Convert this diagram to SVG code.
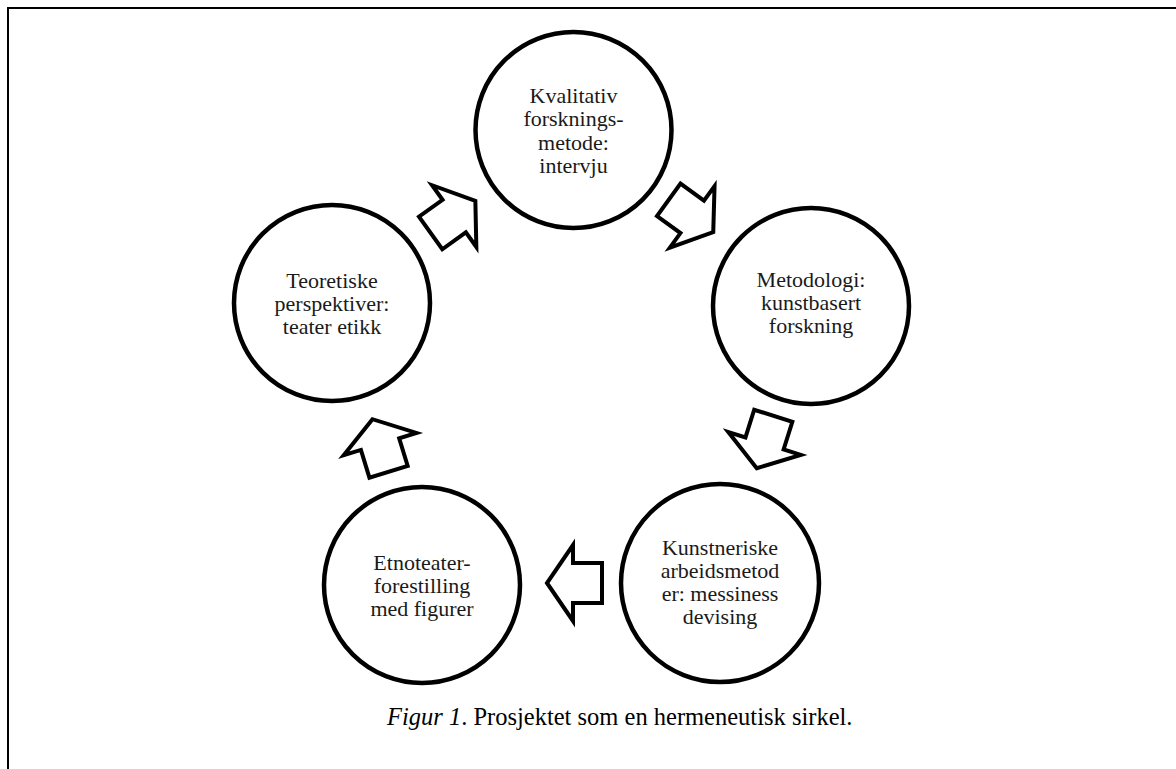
<svg xmlns="http://www.w3.org/2000/svg" width="1176" height="769" viewBox="0 0 1176 769">
<style>
.frame{fill:none;stroke:#000;stroke-width:2}
.node circle{fill:#fff;stroke:#000;stroke-width:4.5}
.node text{font-family:"Liberation Serif","Times New Roman",serif;font-size:22px;fill:#1a1a1a;text-anchor:middle}
.arrow{fill:#fff;stroke:#000;stroke-width:4;stroke-linejoin:miter;stroke-miterlimit:10}
.caption{font-family:"Liberation Serif","Times New Roman",serif;font-size:24.5px;fill:#000}
</style>
<defs>
<path id="blockArrow" d="M27.5,0 L1.5,-38 L1.5,-20 L-27.5,-20 L-27.5,20 L1.5,20 L1.5,38 Z"/>
</defs>
<rect width="1176" height="769" fill="#fff"/>
<path class="frame" d="M8,769 V8 H1176"/>

<g id="connectors">
<use href="#blockArrow" class="arrow" transform="translate(453,217) rotate(-35.6)"/>
<use href="#blockArrow" class="arrow" transform="translate(691,216) rotate(36)"/>
<use href="#blockArrow" class="arrow" transform="translate(765,442) rotate(107.5)"/>
<use href="#blockArrow" class="arrow" transform="translate(574.5,583) rotate(180)"/>
<use href="#blockArrow" class="arrow" transform="translate(380.5,445.5) rotate(-107)"/>
</g>

<g id="node-kvalitativ" class="node">
<circle cx="573.5" cy="130" r="98"/>
<text x="573.5" y="103">Kvalitativ</text>
<text x="573.5" y="126.3">forsknings-</text>
<text x="573.5" y="149.6">metode:</text>
<text x="573.5" y="172.9">intervju</text>
</g>

<g id="node-metodologi" class="node">
<circle cx="811" cy="306" r="98"/>
<text x="811" y="287">Metodologi:</text>
<text x="811" y="310">kunstbasert</text>
<text x="811" y="333">forskning</text>
</g>

<g id="node-kunstneriske" class="node">
<circle cx="720" cy="583" r="99"/>
<text x="720" y="555">Kunstneriske</text>
<text x="720" y="578">arbeidsmetod</text>
<text x="720" y="601">er: messiness</text>
<text x="720" y="624">devising</text>
</g>

<g id="node-etnoteater" class="node">
<circle cx="422" cy="585" r="98"/>
<text x="422" y="570">Etnoteater-</text>
<text x="422" y="593">forestilling</text>
<text x="422" y="616">med figurer</text>
</g>

<g id="node-teoretiske" class="node">
<circle cx="332" cy="303" r="98"/>
<text x="332" y="288">Teoretiske</text>
<text x="332" y="311">perspektiver:</text>
<text x="332" y="334">teater etikk</text>
</g>

<text class="caption" x="387" y="725"><tspan font-style="italic">Figur 1</tspan>. Prosjektet som en hermeneutisk sirkel.</text>
</svg>
